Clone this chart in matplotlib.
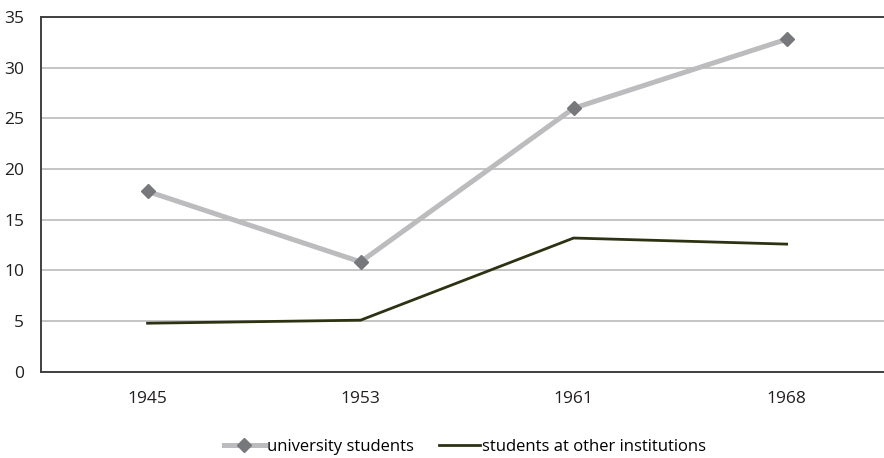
import matplotlib.pyplot as plt
import numpy as np

years = ['1945', '1953', '1961', '1968']
university = [17.8, 10.85, 26.0, 32.8]
other_inst = [4.8, 5.1, 13.2, 12.6]

plt.rcParams['font.family'] = ['Open Sans', 'DejaVu Sans']

fig = plt.figure(figsize=(8.84, 4.58), dpi=100)
ax = fig.add_axes([0.0464, 0.188, 0.964, 0.775])

x = np.arange(len(years))
ax.plot(x, university, color='#bcbcbe', linewidth=3.6, marker='D',
        markersize=7, markerfacecolor='#77787b', markeredgecolor='#77787b',
        label='university students', zorder=3)
ax.plot(x, other_inst, color='#2d3212', linewidth=2.0,
        label='students at other institutions', zorder=3)

ax.set_xlim(-0.5, 3.5)
ax.set_ylim(0, 35)
ax.set_yticks(np.arange(0, 36, 5))
ax.set_xticks(x)
ax.set_xticklabels(years)
ax.tick_params(axis='both', length=0, labelsize=12.5, colors='#231f20')
ax.tick_params(axis='x', pad=14)
ax.tick_params(axis='y', pad=12)
ax.grid(axis='y', color='#c0c0c0', linewidth=1.3)
ax.set_axisbelow(True)
for side in ['left', 'top', 'bottom']:
    ax.spines[side].set_color('#404040')
    ax.spines[side].set_linewidth(1.4)
ax.spines['right'].set_visible(False)

fig.legend(*ax.get_legend_handles_labels(), loc='center',
           bbox_to_anchor=(0.526, 0.024), ncol=2, frameon=False,
           fontsize=12, handlelength=2.45, handletextpad=0.15,
           columnspacing=1.5, borderpad=0)

fig.savefig('out.png', dpi=100)
